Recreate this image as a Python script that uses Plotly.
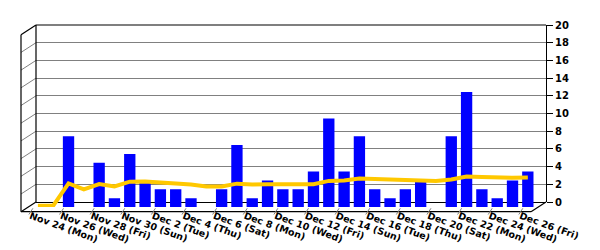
import plotly.graph_objects as go

# ---- data ----
dates = ["Nov 24 (Mon)", "Nov 25 (Tue)", "Nov 26 (Wed)", "Nov 27 (Thu)", "Nov 28 (Fri)",
         "Nov 29 (Sat)", "Nov 30 (Sun)", "Dec 1 (Mon)", "Dec 2 (Tue)", "Dec 3 (Wed)",
         "Dec 4 (Thu)", "Dec 5 (Fri)", "Dec 6 (Sat)", "Dec 7 (Sun)", "Dec 8 (Mon)",
         "Dec 9 (Tue)", "Dec 10 (Wed)", "Dec 11 (Thu)", "Dec 12 (Fri)", "Dec 13 (Sat)",
         "Dec 14 (Sun)", "Dec 15 (Mon)", "Dec 16 (Tue)", "Dec 17 (Wed)", "Dec 18 (Thu)",
         "Dec 19 (Fri)", "Dec 20 (Sat)", "Dec 21 (Sun)", "Dec 22 (Mon)", "Dec 23 (Tue)",
         "Dec 24 (Wed)", "Dec 25 (Thu)", "Dec 26 (Fri)"]
counts = [0, 0, 8, 0, 5, 1, 6, 3, 2, 2, 1, 0, 2, 7, 1, 3, 2, 2, 4, 10, 4, 8, 2, 1,
          2, 3, 0, 8, 13, 2, 1, 3, 4]
average = [0.15, 0.15, 2.67, 2.0, 2.6, 2.33, 2.86, 2.88, 2.78, 2.7, 2.55, 2.33, 2.31,
           2.64, 2.53, 2.56, 2.53, 2.5, 2.58, 2.95, 3.0, 3.23, 3.17, 3.08, 3.04, 3.04,
           2.93, 3.11, 3.45, 3.4, 3.32, 3.31, 3.33]
y_ticks = [0, 2, 4, 6, 8, 10, 12, 14, 16, 18, 20]
label_idx = list(range(0, len(dates), 2))
label_text = [dates[i] for i in label_idx]

# ---- geometry helpers (pixels -> paper) ----
W, H = 600, 250
L, R, T, B = 21, 54, 25, 38
PW, PH = W - L - R, H - T - B


def X(px):
    return (px - L) / PW


def Y(py):
    return (H - B - py) / PH


back_left, back_right, back_top, back_bottom = 36, 546, 25, 202
dx, dy = -15, 9.7  # depth offset (back -> front)
unit = (back_bottom - back_top) / 20.0

FONT = dict(family="DejaVu Sans", size=10, color="black", weight="bold")
XFONT = dict(family="DejaVu Sans", size=9.5, color="black", weight="bold")

fig = go.Figure()

# bars + average line on the mid-depth axes
fig.add_trace(go.Bar(x=list(range(len(dates))), y=counts, width=0.74,
                     marker=dict(color="#0000FF", line=dict(width=0)),
                     xaxis="x3", yaxis="y3", hoverinfo="skip"))
fig.add_trace(go.Scatter(x=list(range(len(dates))), y=average, mode="lines",
                         line=dict(color="#FFC800", width=4),
                         xaxis="x3", yaxis="y3", hoverinfo="skip"))
# dummy traces to create the back and front subplots
fig.add_trace(go.Scatter(x=[0], y=[0], mode="markers", marker=dict(opacity=0),
                         xaxis="x", yaxis="y", hoverinfo="skip"))
fig.add_trace(go.Scatter(x=[0], y=[0], mode="markers", marker=dict(opacity=0),
                         xaxis="x2", yaxis="y2", hoverinfo="skip"))

shapes = []
black = dict(color="black", width=1.2)
gray = dict(color="#808080", width=1)


def line(x0, y0, x1, y1, style, layer="above"):
    shapes.append(dict(type="line", xref="paper", yref="paper",
                       x0=X(x0), y0=Y(y0), x1=X(x1), y1=Y(y1),
                       line=style, layer=layer))


# left wall grid lines
for v in y_ticks[1:-1]:
    yb = back_bottom - v * unit
    line(back_left, yb, back_left + dx, yb + dy, gray)
# frame
line(back_left, back_top, back_left + dx, back_top + dy, black)          # wall top
line(back_left + dx, back_top + dy, back_left + dx, back_bottom + dy, black)  # wall front edge
line(back_left, back_top, back_left, back_bottom, black)                 # back left edge
line(back_left, back_top, back_right, back_top, black)                   # back top edge
line(back_left, back_bottom, back_left + dx, back_bottom + dy, black)     # wall bottom
line(back_left + dx, back_bottom + dy, back_right + dx, back_bottom + dy, black)  # floor front
line(back_right, back_bottom, back_right + dx, back_bottom + dy, black)   # floor right

# floor ticks
slot = 15.31
for i in label_idx:
    xf = 30.4 + slot * i
    line(xf + 2.5, 208.3, xf - 1.5, 214.5, gray)

fig.update_layout(
    width=W, height=H, margin=dict(l=L, r=R, t=T, b=B, pad=0, autoexpand=False),
    paper_bgcolor="white", plot_bgcolor="rgba(0,0,0,0)",
    showlegend=False, shapes=shapes,
    xaxis=dict(domain=[X(back_left), X(back_right)], range=[0, 1], visible=False,
               anchor="y", fixedrange=True, automargin=False),
    yaxis=dict(domain=[Y(back_bottom), Y(back_top)], range=[0, 20], side="right",
               anchor="x", tickvals=y_ticks, ticktext=[str(v) for v in y_ticks],
               showgrid=True, gridcolor="#808080", gridwidth=1,
               zeroline=True, zerolinecolor="black", zerolinewidth=1.2,
               showline=True, linecolor="black", linewidth=1.2,
               ticks="outside", ticklen=6, tickcolor="black", tickwidth=1,
               tickfont=FONT, fixedrange=True, automargin=False),
    xaxis2=dict(domain=[X(22.75), X(22.75 + slot * 33)], range=[-0.5, 32.5],
                anchor="y2", tickvals=label_idx, ticktext=label_text,
                tickangle=20, ticks="", showgrid=False, zeroline=False,
                showline=False, tickfont=XFONT, fixedrange=True, automargin=False,
                ticklabelstandoff=-4),
    yaxis2=dict(domain=[0, 1], range=[0, 1], visible=False, anchor="x2",
                fixedrange=True, automargin=False),
    xaxis3=dict(domain=[X(30.25), X(30.25 + slot * 33)], range=[-0.5, 32.5],
                anchor="y3", visible=False, fixedrange=True, automargin=False),
    yaxis3=dict(domain=[Y(207), Y(207 - 20 * unit)], range=[0, 20], anchor="x3",
                visible=False, fixedrange=True, automargin=False),
)

fig.write_html("out.html", config={"displayModeBar": False})
